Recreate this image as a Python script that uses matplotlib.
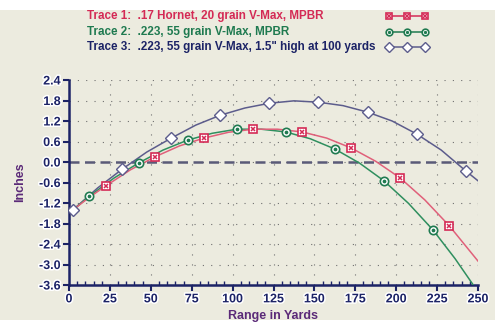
import matplotlib
matplotlib.use("Agg")
import matplotlib.pyplot as plt
from matplotlib.patches import Rectangle
import matplotlib.patheffects as pe
import numpy as np

# ---- data ----
t1_x = [2.5, 12.5, 22.5, 37.5, 52.5, 67.5, 82.5, 97.5, 112.5, 127.5, 142.5,
        157.5, 172.5, 187.5, 202.5, 217.5, 232.5, 250]
t1_y = [-1.40, -1.03, -0.70, -0.23, 0.15, 0.47, 0.70, 0.87, 0.96, 0.96, 0.88,
        0.70, 0.41, 0.02, -0.47, -1.11, -1.87, -2.90]
t1_markers = [2, 4, 6, 8, 10, 12, 14, 16]

t2_x = [2.5, 12.5, 27.5, 42.5, 57.5, 72.5, 87.5, 102.5, 117.5, 132.5, 147.5,
        162.5, 177.5, 192.5, 207.5, 222.5, 236, 250]
t2_y = [-1.40, -1.00, -0.47, -0.03, 0.35, 0.64, 0.84, 0.96, 0.96, 0.88, 0.68,
        0.38, -0.03, -0.55, -1.21, -1.99, -2.83, -3.80]
t2_markers = [1, 3, 5, 7, 9, 11, 13, 15]

t3_x = [2.5, 17.5, 32.5, 47.5, 62.5, 77.5, 92.5, 107.5, 122.5, 137.5, 152.5,
        167.5, 182.5, 197.5, 212.5, 227.5, 242.5, 250]
t3_y = [-1.40, -0.76, -0.21, 0.29, 0.70, 1.08, 1.37, 1.58, 1.72, 1.79, 1.75,
        1.65, 1.46, 1.20, 0.82, 0.35, -0.26, -0.55]
t3_markers = [0, 2, 4, 6, 8, 10, 12, 14, 16]

legend_labels = ["Trace 1:  .17 Hornet, 20 grain V-Max, MPBR",
                 "Trace 2:  .223, 55 grain V-Max, MPBR",
                 "Trace 3:  .223, 55 grain V-Max, 1.5\" high at 100 yards"]
x_ticks = [0, 25, 50, 75, 100, 125, 150, 175, 200, 225, 250]
y_ticks = [2.4, 1.8, 1.2, 0.6, 0.0, -0.6, -1.2, -1.8, -2.4, -3.0, -3.6]
x_label = "Range in Yards"
y_label = "Inches"

# ---- style ----
BG = "#ecebdf"
NAVY = "#1c2366"
PURPLE = "#5b2a78"
c1_line, c1_mk = "#e0607a", "#d42a55"
c2_line, c2_mk = "#2f8f5f", "#1f7a50"
c3_line, c3_mk = "#5c5c8c", "#5c5c8c"
FONT = "Liberation Sans"

fig = plt.figure(figsize=(5.0, 3.33), dpi=100)
fig.patch.set_facecolor("white")

bg = fig.add_axes([0, 0, 1, 1], zorder=-5)
bg.set_xlim(0, 500)
bg.set_ylim(333, 0)
bg.axis("off")
bg.add_patch(Rectangle((0, 10), 495, 310, facecolor=BG, edgecolor="none"))

ax = fig.add_axes([69/500, 1 - 285/333, (478-69)/500, (285-80)/333], zorder=1)
ax.set_facecolor(BG)
ax.set_xlim(0, 250)
ax.set_ylim(-3.6, 2.4)

halo = [pe.withStroke(linewidth=2.2, foreground="white")]

# grid
ax.set_xticks(x_ticks)
ax.set_yticks(y_ticks)
ax.set_xticks(np.arange(0, 251, 5), minor=True)
ax.yaxis.grid(True, linestyle=(0, (1, 6.5)), color="#707070", linewidth=0.8)
ax.xaxis.grid(True, linestyle=(0, (1, 8)), color="#707070", linewidth=0.8)
ax.set_axisbelow(True)
ax.axhline(0, color="#5a5a78", linewidth=1.8, linestyle=(0, (4, 2.2)), zorder=1)


def draw(x, y, lc, mc, kind, ax_, mk_idx, scale=1.0):
    ax_.plot(x, y, color=lc, linewidth=1.1, zorder=3)
    mx = [x[i] for i in mk_idx]
    my = [y[i] for i in mk_idx]
    if kind == "sq":
        ax_.plot(mx, my, linestyle="none", marker="s", ms=5.6*scale, mfc="white",
                 mec=mc, mew=1.2, zorder=4)
        ax_.plot(mx, my, linestyle="none", marker="x", ms=3.0*scale, mec=mc,
                 mew=1.1, zorder=5)
    elif kind == "ci":
        ax_.plot(mx, my, linestyle="none", marker="o", ms=6.0*scale, mfc="white",
                 mec=mc, mew=1.2, zorder=4)
        ax_.plot(mx, my, linestyle="none", marker="o", ms=1.7*scale, mfc=mc,
                 mec=mc, zorder=5)
    else:
        ax_.plot(mx, my, linestyle="none", marker="D", ms=5.8*scale, mfc="white",
                 mec=mc, mew=1.0, zorder=4)


draw(t3_x, t3_y, c3_line, c3_mk, "di", ax, t3_markers)
draw(t2_x, t2_y, c2_line, c2_mk, "ci", ax, t2_markers)
draw(t1_x, t1_y, c1_line, c1_mk, "sq", ax, t1_markers)

# spines & ticks
for s in ["top", "right"]:
    ax.spines[s].set_visible(False)
for s in ["left", "bottom"]:
    ax.spines[s].set_color(NAVY)
    ax.spines[s].set_linewidth(1.8)
ax.tick_params(axis="both", which="major", colors=NAVY, length=4, width=1.5,
               direction="out", pad=2)
ax.tick_params(axis="x", which="minor", colors=NAVY, length=3, width=1.0,
               direction="in")
ax.set_xticklabels([str(v) for v in x_ticks])
ax.set_yticklabels(["%.1f" % v for v in y_ticks])
for lab in ax.get_xticklabels() + ax.get_yticklabels():
    lab.set_fontfamily(FONT)
    lab.set_fontweight("bold")
    lab.set_fontsize(9)
    lab.set_color(NAVY)
    lab.set_path_effects(halo)

ax.set_xlabel(x_label, fontfamily=FONT, fontweight="bold", fontsize=9,
              color=PURPLE, labelpad=3)
ax.set_ylabel(y_label, fontfamily=FONT, fontweight="bold", fontsize=9,
              color=PURPLE, labelpad=9)

# legend
leg_colors = [c1_mk, "#1f7a50", NAVY]
leg_y = [16, 32, 47]
kinds = ["sq", "ci", "di"]
mcs = [c1_mk, c2_mk, c3_mk]
lcs = [c1_line, c2_line, c3_line]
lax = fig.add_axes([0, 0, 1, 1], facecolor="none", zorder=2)
lax.set_xlim(0, 500)
lax.set_ylim(333, 0)
lax.axis("off")
for lbl, col, yy, k, mc, lc in zip(legend_labels, leg_colors, leg_y, kinds, mcs, lcs):
    lax.text(87, yy, lbl, fontfamily=FONT, fontweight="bold", fontsize=8.4,
             color=col, va="center", ha="left")
    xs = [389, 407, 425]
    draw(xs, [yy]*3, mc, mc, k, lax, range(0, 3), scale=0.8)

fig.savefig("out.png", dpi=100)
